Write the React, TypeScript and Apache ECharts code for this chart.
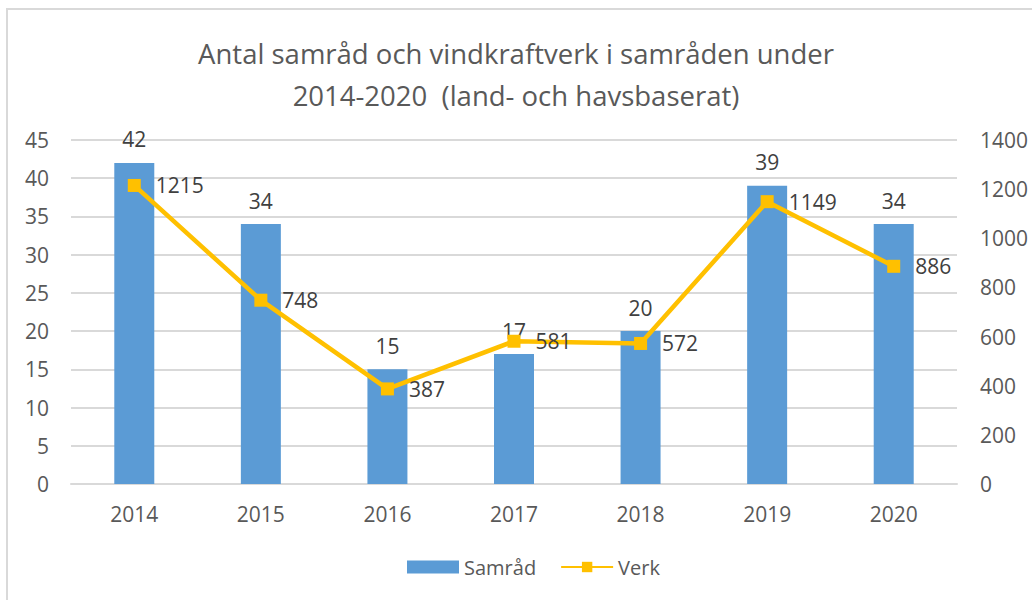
import React, { useEffect, useRef } from "react";
import * as echarts from "echarts";

const categories = ["2014", "2015", "2016", "2017", "2018", "2019", "2020"];
const samrad = [42, 34, 15, 17, 20, 39, 34];
const verk = [1215, 748, 387, 581, 572, 1149, 886];
const titleText = "Antal samråd och vindkraftverk i samråden under\n2014-2020  (land- och havsbaserat)";

const FONT = "'Open Sans', 'Noto Sans', sans-serif";
const TXT = "#595959";
const FS = 21;

export default function App() {
  const ref = useRef<HTMLDivElement>(null);
  useEffect(() => {
    document.documentElement.style.overflow = "hidden";
    document.body.style.overflow = "hidden";
    document.body.style.margin = "0";
    if (!ref.current) return;
    const chart = echarts.init(ref.current, undefined, { renderer: "svg" });
    chart.setOption({
      animation: false,
      backgroundColor: "#ffffff",
      textStyle: { fontFamily: FONT },
      title: {
        text: titleText,
        left: "center",
        top: 27,
        textStyle: { fontFamily: FONT, fontSize: 27.5, fontWeight: "normal", color: TXT, lineHeight: 42 },
      },
      graphic: [
        {
          type: "line",
          shape: { x1: 7, y1: 8, x2: 7, y2: 700 },
          style: { stroke: "#D9D9D9", lineWidth: 2 },
          silent: true,
        },
        {
          type: "line",
          shape: { x1: 6, y1: 9, x2: 1200, y2: 9 },
          style: { stroke: "#D9D9D9", lineWidth: 2 },
          silent: true,
        },
      ],
      legend: {
        bottom: 18,
        left: 402,
        itemGap: 24,
        itemWidth: 52,
        itemHeight: 13,
        textStyle: { fontFamily: FONT, fontSize: 20, color: TXT },
        data: [
          { name: "Samråd", icon: "rect" },
          { name: "Verk" },
        ],
      },
      grid: { left: 71, right: 75, top: 140, bottom: 116 },
      xAxis: {
        type: "category",
        data: categories,
        axisTick: { show: false },
        axisLine: { lineStyle: { color: "#D9D9D9", width: 2 } },
        axisLabel: { color: TXT, fontSize: FS, fontFamily: FONT, margin: 19 },
      },
      yAxis: [
        {
          type: "value",
          min: 0,
          max: 45,
          interval: 5,
          axisLine: { show: false },
          axisTick: { show: false },
          splitLine: { lineStyle: { color: "#D9D9D9", width: 2 } },
          axisLabel: { color: TXT, fontSize: FS, fontFamily: FONT, margin: 22 },
        },
        {
          type: "value",
          min: 0,
          max: 1400,
          interval: 200,
          axisLine: { show: false },
          axisTick: { show: false },
          splitLine: { show: false },
          axisLabel: {
            color: TXT,
            fontSize: FS,
            fontFamily: FONT,
            margin: 23,
            formatter: (v: number) => String(v),
          },
        },
      ],
      series: [
        {
          name: "Samråd",
          type: "bar",
          data: samrad,
          barWidth: "31.6%",
          itemStyle: { color: "#5B9BD5" },
          label: {
            show: true,
            position: "top",
            distance: 13,
            color: "#404040",
            fontSize: FS,
            fontFamily: FONT,
          },
          z: 1,
        },
        {
          name: "Verk",
          type: "line",
          yAxisIndex: 1,
          data: verk,
          symbol: "rect",
          symbolSize: 13,
          lineStyle: { color: "#FFC000", width: 4.5 },
          itemStyle: { color: "#FFC000" },
          label: {
            show: true,
            position: "right",
            distance: 15,
            color: "#404040",
            fontSize: FS,
            fontFamily: FONT,
          },
          z: 3,
        },
      ],
    });
    return () => chart.dispose();
  }, []);
  return <div ref={ref} style={{ width: 1032, height: 600 }} />;
}
